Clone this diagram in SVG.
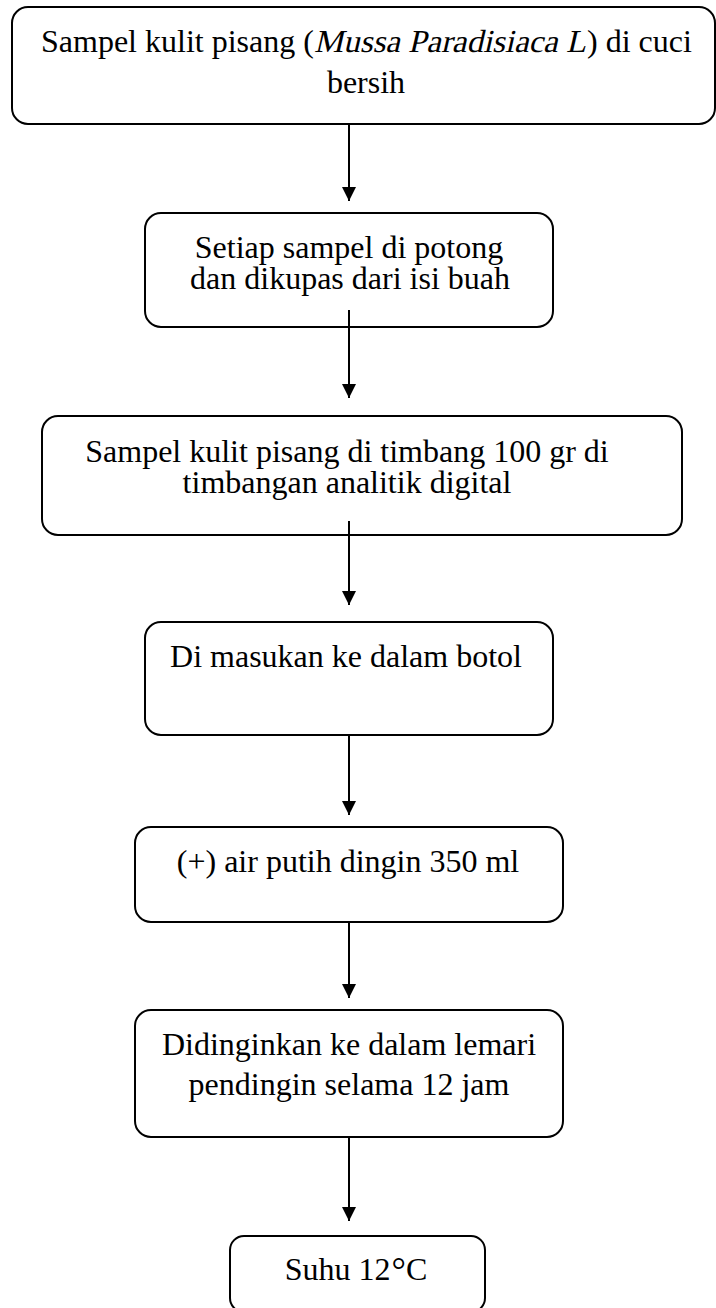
<svg xmlns="http://www.w3.org/2000/svg" width="716" height="1308" viewBox="0 0 716 1308">
<style>
.box{fill:#fff;stroke:#000;stroke-width:2}
.t{font-family:"Liberation Serif","Times New Roman",serif;font-size:32px;fill:#000;text-anchor:middle}
.s{text-anchor:start}
.c{stroke:#000;stroke-width:2;fill:none}
</style>
<defs>
<marker id="ah" viewBox="0 0 14 14" refX="14" refY="7" markerWidth="14" markerHeight="14" markerUnits="userSpaceOnUse" orient="auto">
<path d="M0,0 L14,7 L0,14 Z" fill="#000"/>
</marker>
</defs>
<rect width="716" height="1308" fill="#fff"/>
<g id="n1">
<rect class="box" x="12" y="7" width="703" height="117" rx="16"/>
<text class="t s" x="41" y="52">Sampel kulit pisang (</text>
<text class="t s" transform="translate(314,52) skewX(-13)" x="0" y="0" textLength="272" lengthAdjust="spacingAndGlyphs">Mussa Paradisiaca L</text>
<text class="t s" x="587" y="52">) di cuci</text>
<text class="t" x="366" y="93">bersih</text>
</g>
<g id="n2">
<rect class="box" x="145" y="213" width="408" height="114" rx="16"/>
<text class="t" x="349" y="258">Setiap sampel di potong</text>
<text class="t" x="350" y="289">dan dikupas dari isi buah</text>
</g>
<g id="n3">
<rect class="box" x="42" y="416" width="640" height="119" rx="16"/>
<text class="t" x="347" y="462">Sampel kulit pisang di timbang 100 gr di</text>
<text class="t" x="347" y="493">timbangan analitik digital</text>
</g>
<g id="n4">
<rect class="box" x="145" y="622" width="408" height="113" rx="16"/>
<text class="t" x="346" y="667">Di masukan ke dalam botol</text>
</g>
<g id="n5">
<rect class="box" x="135" y="827" width="428" height="95" rx="16"/>
<text class="t" x="348" y="872">(+) air putih dingin 350 ml</text>
</g>
<g id="n6">
<rect class="box" x="135" y="1010" width="428" height="127" rx="16"/>
<text class="t" x="349" y="1055">Didinginkan ke dalam lemari</text>
<text class="t" x="349" y="1095">pendingin selama 12 jam</text>
</g>
<g id="n7">
<rect class="box" x="230" y="1236" width="255" height="76" rx="14"/>
<text class="t" x="356" y="1280">Suhu 12<tspan font-size="36" font-weight="normal" dy="2" dx="1">°</tspan><tspan dy="-2">C</tspan></text>
</g>
<g id="connectors">
<line class="c" x1="349" y1="124" x2="349" y2="201" marker-end="url(#ah)"/>
<line class="c" x1="349" y1="310" x2="349" y2="398" marker-end="url(#ah)"/>
<line class="c" x1="349" y1="521" x2="349" y2="605" marker-end="url(#ah)"/>
<line class="c" x1="349" y1="735" x2="349" y2="815" marker-end="url(#ah)"/>
<line class="c" x1="349" y1="922" x2="349" y2="998" marker-end="url(#ah)"/>
<line class="c" x1="349" y1="1137" x2="349" y2="1221" marker-end="url(#ah)"/>
</g>
</svg>
